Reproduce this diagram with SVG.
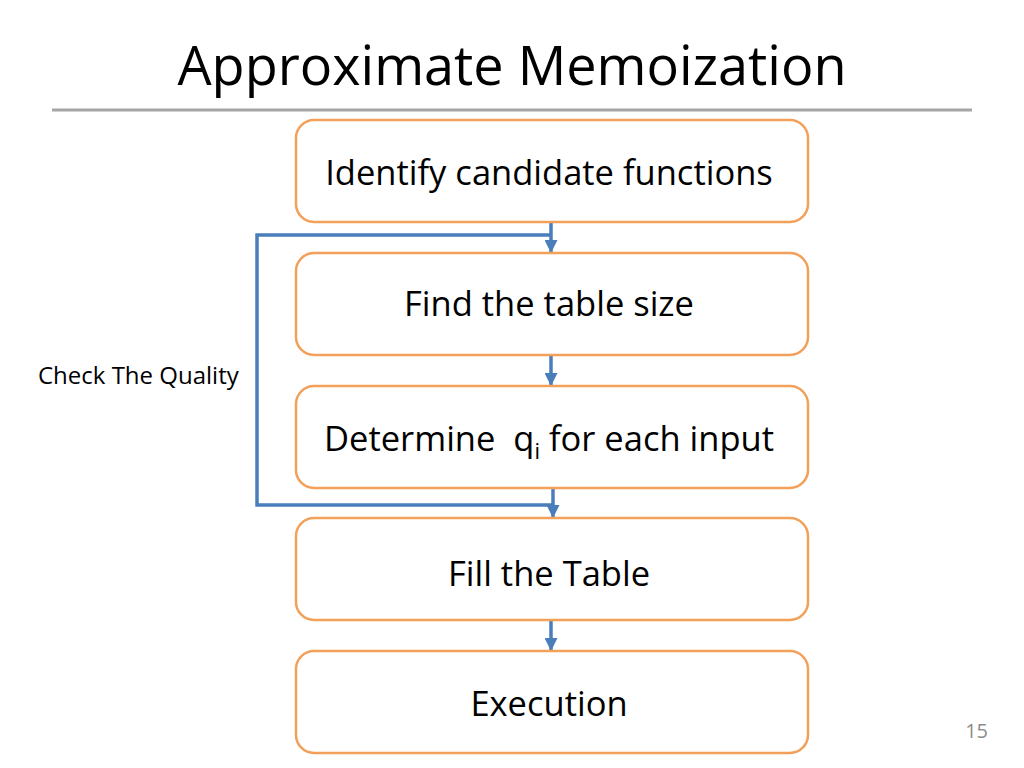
<svg xmlns="http://www.w3.org/2000/svg" width="1024" height="768" viewBox="0 0 1024 768">
<defs>
<marker id="ah" markerWidth="13" markerHeight="13" refX="12" refY="6.5" orient="auto" markerUnits="userSpaceOnUse" viewBox="0 0 13 13">
<path d="M0,0 L13,6.5 L0,13 Z" fill="#4A7EBB"/>
</marker>
</defs>
<style>
.box{fill:#fff;stroke:#F3A05A;stroke-width:2.5}
.t{font-family:"Open Sans","Liberation Sans",sans-serif;font-size:34.5px;fill:#000;text-anchor:middle}
.c{fill:none;stroke:#4A7EBB;stroke-width:3.5}
</style>
<rect width="1024" height="768" fill="#fff"/>
<text x="512" y="85" font-family="Open Sans, Liberation Sans, sans-serif" font-size="54" text-anchor="middle" fill="#000">Approximate Memoization</text>
<line x1="52" y1="110" x2="972" y2="110" stroke="#A5A5A5" stroke-width="3"/>
<g id="connectors">
<path class="c" d="M551,222 V252" marker-end="url(#ah)"/>
<path class="c" d="M551,235 H257 V505 H553"/>
<path class="c" d="M553,488 V517" marker-end="url(#ah)"/>
<path class="c" d="M551,355 V385" marker-end="url(#ah)"/>
<path class="c" d="M551,620 V650" marker-end="url(#ah)"/>
</g>
<g id="n1"><rect class="box" x="296" y="120" width="512" height="102" rx="18"/><text class="t" x="549" y="185">Identify candidate functions</text></g>
<g id="n2"><rect class="box" x="296" y="253" width="512" height="102" rx="18"/><text class="t" x="549" y="316">Find the table size</text></g>
<g id="n3"><rect class="box" x="296" y="386" width="512" height="102" rx="18"/><text class="t" x="549" y="451" xml:space="preserve">Determine  q<tspan font-size="22" dy="8">i</tspan><tspan dy="-8"> for each input</tspan></text></g>
<g id="n4"><rect class="box" x="296" y="518" width="512" height="102" rx="18"/><text class="t" x="549" y="586">Fill the Table</text></g>
<g id="n5"><rect class="box" x="296" y="651" width="512" height="102" rx="18"/><text class="t" x="549" y="716">Execution</text></g>
<text x="38" y="384" font-family="Open Sans, Liberation Sans, sans-serif" font-size="24" fill="#000">Check The Quality</text>
<text x="988" y="738" font-family="Open Sans, Liberation Sans, sans-serif" font-size="20" fill="#8C8C8C" text-anchor="end">15</text>
</svg>
